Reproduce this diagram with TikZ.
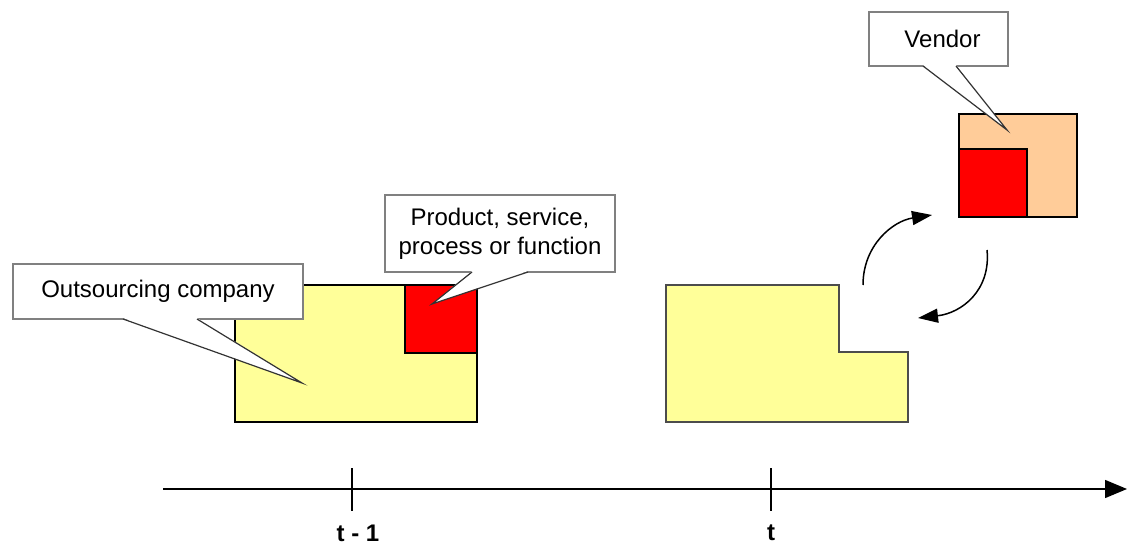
\documentclass[tikz,border=0pt]{standalone}
\usepackage{fontspec}
\setmainfont{Liberation Sans}
\usetikzlibrary{arrows.meta}
\definecolor{lightyellow}{HTML}{FFFF99}
\definecolor{peach}{HTML}{FFCC99}
\definecolor{boxgray}{HTML}{808080}
\begin{document}
\begin{tikzpicture}[x=1pt,y=-1pt,
  callbox/.style={draw=boxgray, fill=white, line width=1.3pt, align=center, inner sep=0pt,
    font=\fontsize{24}{29}\selectfont},
  pointer/.style={fill=white},
  pointerline/.style={draw=black!80, line width=1.2pt},
  shapeline/.style={draw=black, line width=1.5pt},
  curvearrow/.style={line width=1.5pt, -{Triangle[length=20pt,width=14pt]}},
  tickline/.style={line width=1.5pt},
  ticklabel/.style={font=\fontsize{24}{29}\selectfont\bfseries}
]
\useasboundingbox (0,0) rectangle (1127,545);

% left: outsourcing company with its product
\draw[shapeline, fill=lightyellow] (235,285) rectangle (477,422);
\draw[shapeline, fill=red] (405,285) rectangle (477,353);

% right: remaining company
\draw[draw=black!70, line width=1.5pt, fill=lightyellow]
  (666,285) -- (839,285) -- (839,352) -- (908,352) -- (908,422) -- (666,422) -- cycle;

% vendor
\draw[shapeline, fill=peach] (959,114) rectangle (1077,217);
\draw[shapeline, fill=red] (959,149) rectangle (1027,217);

% callouts
\node[callbox, minimum width=290pt, minimum height=55pt] (oc) at (158,291.5) {Outsourcing company};
\coordinate (ocA) at (123,319);
\coordinate (ocB) at (197,319);
\coordinate (ocT) at (302,383);
\fill[pointer] ([yshift=1pt]ocA) -- (ocT) -- ([yshift=1pt]ocB) -- cycle;
\draw[pointerline] (ocA) -- (ocT) -- (ocB);

\node[callbox, minimum width=230pt, minimum height=77pt] (ps) at (500,233.5) {Product, service,\\process or function};
\coordinate (psA) at (472,272);
\coordinate (psB) at (528,272);
\coordinate (psT) at (432,304);
\fill[pointer] ([yshift=1pt]psA) -- (psT) -- ([yshift=1pt]psB) -- cycle;
\draw[pointerline] (psA) -- (psT) -- (psB);

\node[callbox, minimum width=139pt, minimum height=54pt] (vd) at (938.5,39) {\hspace*{8pt}Vendor};
\coordinate (vdA) at (923,66);
\coordinate (vdB) at (956,66);
\coordinate (vdT) at (1007,130);
\fill[pointer] ([yshift=1pt]vdA) -- (vdT) -- ([yshift=1pt]vdB) -- cycle;
\draw[pointerline] (vdA) -- (vdT) -- (vdB);

% exchange arrows
\coordinate (c1s) at (863,285);
\coordinate (c1e) at (932,215);
\coordinate (c2s) at (987,250);
\coordinate (c2e) at (918,318);
\draw[curvearrow] (c1s) .. controls (863,245) and (893,221) .. (c1e);
\draw[curvearrow] (c2s) .. controls (991,290) and (962,313) .. (c2e);

% time axis
\coordinate (ax0) at (163,489);
\coordinate (ax1) at (1127,489);
\draw[line width=1.5pt, -{Triangle[length=22pt,width=18pt]}] (ax0) -- (ax1);
\coordinate (t1top) at (352,468);
\coordinate (t1bot) at (352,511);
\coordinate (t2top) at (771,468);
\coordinate (t2bot) at (771,511);
\draw[tickline] (t1top) -- (t1bot);
\draw[tickline] (t2top) -- (t2bot);
\node[ticklabel] (l1) at (358,533) {t - 1};
\node[ticklabel] (l2) at (771,533) {t};
\end{tikzpicture}
\end{document}
